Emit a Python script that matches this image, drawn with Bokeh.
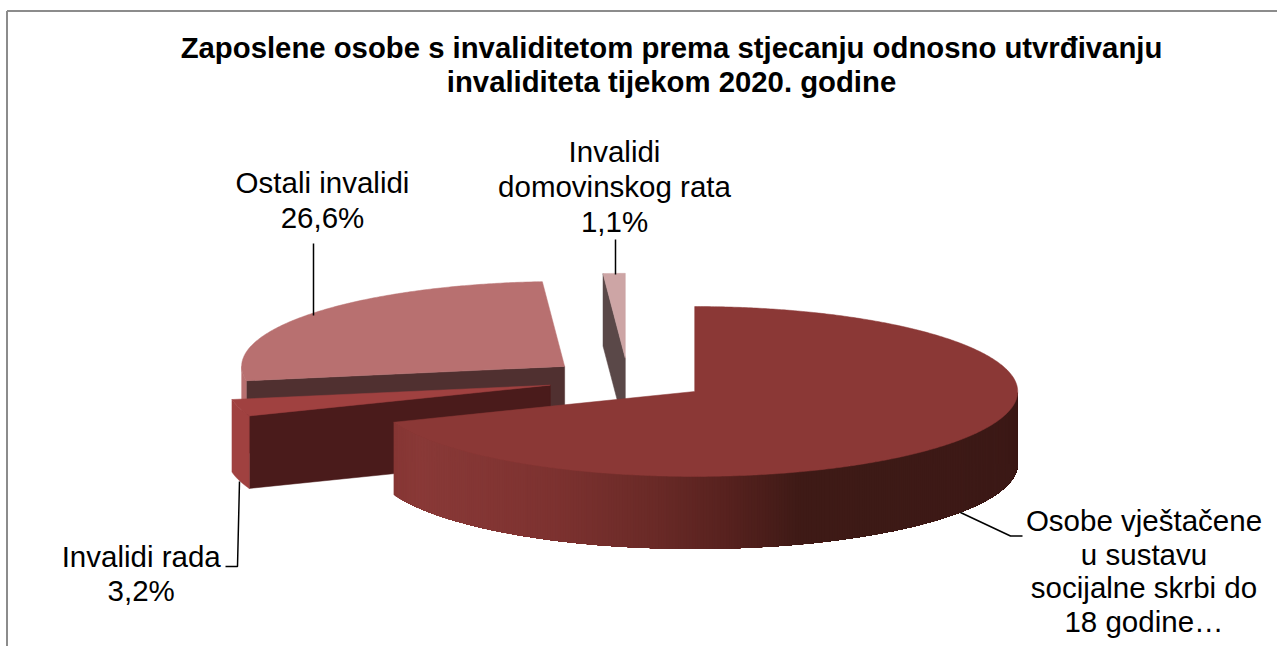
from math import sin, cos, radians
from bokeh.plotting import figure
from bokeh.models import Range1d
from bokeh.core.properties import value
from bokeh.embed import file_html
from bokeh.resources import INLINE

# ---- data ----
slice_names = ["Osobe vještačene u sustavu socijalne skrbi do 18 godine…",
               "Invalidi rada", "Ostali invalidi", "Invalidi domovinskog rata"]
slice_values = [69.1, 3.2, 26.6, 1.1]
title_lines = ["Zaposlene osobe s invaliditetom prema stjecanju odnosno utvrđivanju",
               "invaliditeta tijekom 2020. godine"]
label_lines = [["Osobe vještačene", "u sustavu", "socijalne skrbi do", "18 godine…"],
               ["Invalidi rada", "3,2%"],
               ["Ostali invalidi", "26,6%"],
               ["Invalidi", "domovinskog rata", "1,1%"]]

# ---- styles / layout ----
top_colors = ["#8B3836", "#A04140", "#B87070", "#CDA5A5"]
face_colors = ["#3E1815", "#4A1B1B", "#503030", "#5A4848"]
wall_colors = [None, "#A04140", "#B87070", "#CDA5A5"]
# main wall gradient: (screen x, r, g, b)
grad = [(393, 134, 54, 52), (420, 137, 57, 55), (552, 125, 50, 48), (652, 106, 42, 39),
        (730, 86, 33, 30), (800, 62, 26, 22), (1018, 60, 25, 22)]
CX, CY, RX, KY, EXPLODE, DEPTH = 627.6, 379.0, 323.0, 0.263, 80.7, 72.5
label_pos = [(1143.5, [520.3, 554.3, 587.3, 621.3]), (140.7, [556.3, 590.3]),
             (322, [182.3, 217.3]), (614, [151.3, 186.3, 221.3])]
leaders = [([960, 1010, 1022], [512, 535.5, 535.5]),
           ([239, 237, 225], [481, 566, 566]),
           ([313, 313], [243, 315]),
           ([615, 615], [239, 274])]

p = figure(width=1277, height=646, output_backend="svg", toolbar_location=None,
           x_range=Range1d(0, 1277), y_range=Range1d(646, 0),
           min_border=0, outline_line_color=None, background_fill_color="white")
p.axis.visible = False
p.grid.visible = False


def pt(cx, cy, a, dz=0.0):
    return cx + RX * sin(radians(a)), cy - RX * KY * cos(radians(a)) + dz


def arc(cx, cy, a0, a1, dz=0.0):
    n = max(2, int(abs(a1 - a0)) * 2 + 1)
    pts = [pt(cx, cy, a0 + (a1 - a0) * i / (n - 1), dz) for i in range(n)]
    return [q[0] for q in pts], [q[1] for q in pts]


def grad_color(x):
    for (x0, *c0), (x1, *c1) in zip(grad, grad[1:]):
        if x <= x1:
            t = max(0.0, (x - x0) / (x1 - x0))
            return "#%02x%02x%02x" % tuple(int(round(u + (v - u) * t)) for u, v in zip(c0, c1))
    return "#%02x%02x%02x" % tuple(grad[-1][1:])


total = sum(slice_values)
starts, a = [], 0.0
for v in slice_values:
    starts.append(a)
    a += v / total * 360
ends = starts[1:] + [360.0]

centers = []
for a0, a1 in zip(starts, ends):
    m = radians((a0 + a1) / 2)
    centers.append((CX + EXPLODE * sin(m), CY - EXPLODE * KY * cos(m)))

for i in [3, 2, 1, 0]:  # back to front
    cx, cy = centers[i]
    a0, a1 = starts[i], ends[i]
    # visible radial face at the start edge
    if 180 < a0 < 360:
        ox, oy = pt(cx, cy, a0)
        p.patch([ox, cx, cx, ox], [oy, cy, cy + DEPTH, oy + DEPTH],
                color=face_colors[i], line_width=0.5)
    # outer wall: front half only
    w0, w1 = max(a0, 90), min(a1, 270)
    if w1 > w0:
        if wall_colors[i]:
            x1, y1 = arc(cx, cy, w0, w1)
            x2, y2 = arc(cx, cy, w0, w1, DEPTH)
            p.patch(x1 + x2[::-1], y1 + y2[::-1], color=wall_colors[i], line_width=0.5)
        else:
            steps = int(w1 - w0) * 2
            # each band runs from its left edge all the way to the right end, painted left to right
            for s in range(steps):
                b1 = w1 - (w1 - w0) * s / steps
                x1, y1 = arc(cx, cy, w0, b1)
                x2, y2 = arc(cx, cy, w0, b1, DEPTH)
                c = grad_color(x1[-1] + 1)
                p.patch(x1 + x2[::-1], y1 + y2[::-1], fill_color=c, line_color=None)
    # top
    xs, ys = arc(cx, cy, a0, a1)
    p.patch([cx] + xs, [cy] + ys, color=top_colors[i], line_width=0.5)

# frame
p.line([6.5, 6.5], [646, 10.5], line_color="#8C8C8C", line_width=2)
p.line([6.5, 1277], [10.5, 10.5], line_color="#8C8C8C", line_width=2)

# leaders
for lx, ly in leaders:
    p.line(lx, ly, line_color="black", line_width=1.5)

# title
p.text([671, 671], [47.3, 81.3], text=title_lines, text_font=value("Liberation Sans"),
       text_font_size="29.3px", text_font_style="bold", text_align="center",
       text_baseline="middle", text_color="black")
# labels
for (lx, lys), lines in zip(label_pos, label_lines):
    p.text([lx] * len(lines), lys, text=lines, text_font=value("Liberation Sans"),
           text_font_size="29.5px", text_align="center", text_baseline="middle",
           text_color="black")

open("out.html", "w").write(file_html(p, INLINE))
